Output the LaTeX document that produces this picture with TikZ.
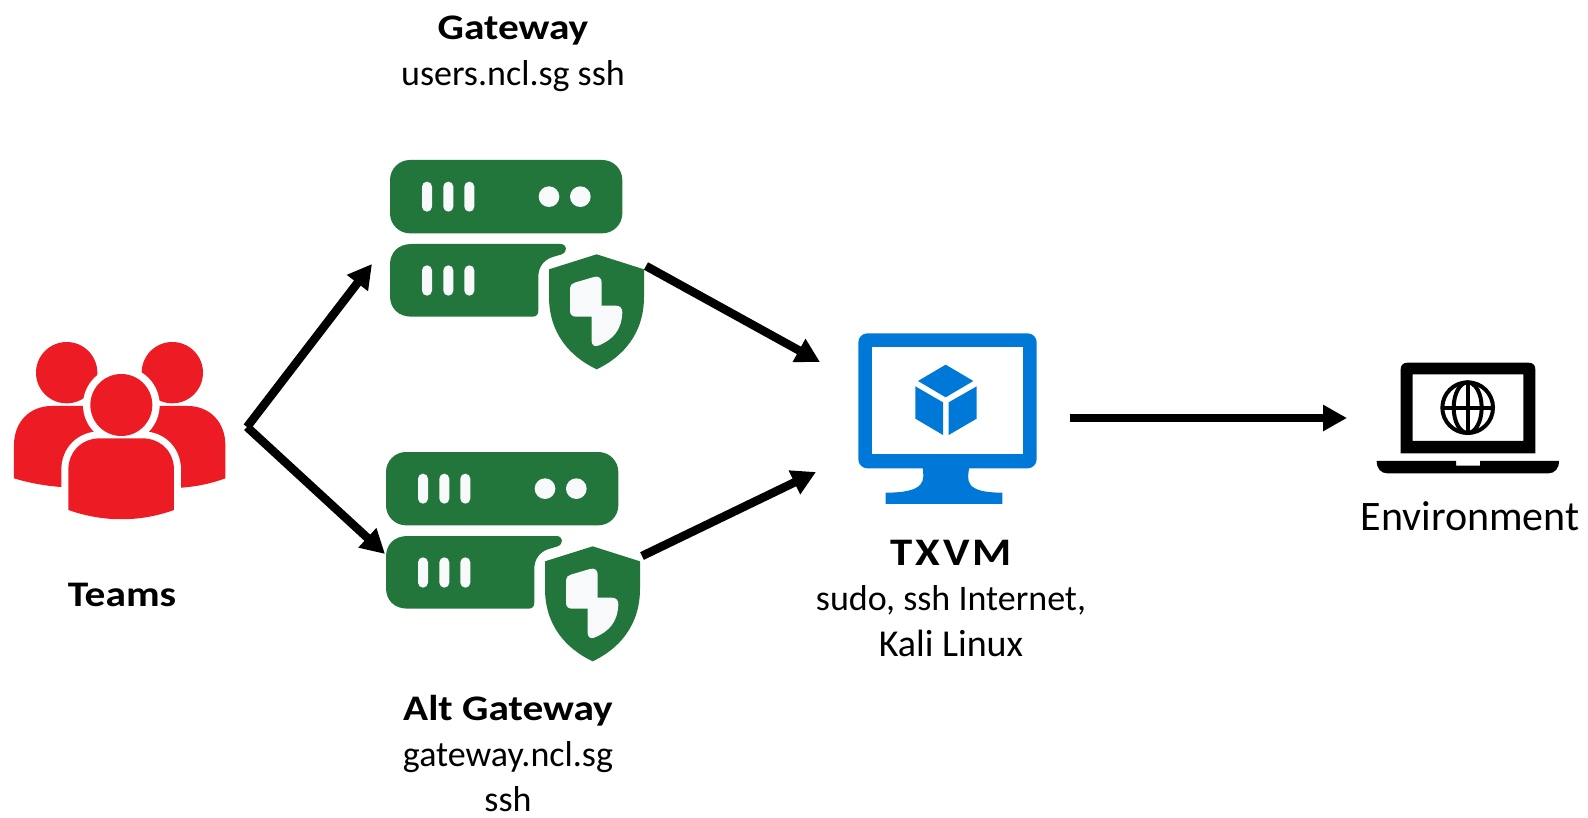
\documentclass[tikz,border=0pt]{standalone}
\usepackage{fontspec}
\setmainfont{Carlito}
\newfontfamily\wideface[FakeStretch=1.15]{Carlito}
\usetikzlibrary{arrows.meta}
\definecolor{teamred}{HTML}{ED1C24}
\definecolor{srvgreen}{HTML}{22753B}
\definecolor{srvwhite}{HTML}{F8F9FB}
\definecolor{vmblue}{HTML}{0078D7}
\newcommand{\headtext}[1]{{\wideface\bfseries #1}}
\tikzset{
  iconframe/.style={inner sep=0pt,outer sep=0pt,draw=none,fill=none},
  conn/.style={line width=8.5pt,black,-{Triangle[length=24pt,width=25pt]}},
  lbl/.style={inner sep=0pt,outer sep=0pt,align=center,text=black,font=\fontsize{36}{45.5}\selectfont},
  zoomunits/.style={x=0.33333pt,y=-0.33333pt},
  pics/server/.style={code={
    \begin{scope}[zoomunits]
      \fill[srvgreen,rounded corners=20pt] (60,60) rectangle (757,280);
      \fill[srvwhite] (537,170) circle (31);
      \fill[srvwhite] (631,170) circle (31);
      \fill[srvgreen] (125,312) -- (570,312) .. controls (592,312) and (594,335) .. (575,343)
        -- (545,352) .. controls (518,362) and (505,385) .. (505,410)
        -- (505,512) .. controls (505,524) and (498,530) .. (488,530)
        -- (125,530) .. controls (85,530) and (60,505) .. (60,468)
        -- (60,374) .. controls (60,337) and (85,312) .. (125,312) -- cycle;
      \foreach \bx in {171,235,298}{
        \fill[srvwhite,rounded corners=5pt] (\bx-15,125) rectangle (\bx+15,215);
        \fill[srvwhite,rounded corners=5pt] (\bx-15,376) rectangle (\bx+15,467);
      }
      \fill[srvgreen] (680,343) -- (822,388) -- (822,470)
        .. controls (822,580) and (760,650) .. (680,688)
        .. controls (600,650) and (537,580) .. (537,470)
        -- (537,388) -- cycle;
      \fill[srvwhite] (614,428) -- (672,411) .. controls (686,407) and (695,414) .. (695,428)
        -- (695,497) -- (738,497) .. controls (750,497) and (757,505) .. (757,517)
        .. controls (755,570) and (730,598) .. (685,617)
        .. controls (673,621) and (665,615) .. (665,603)
        -- (665,530) -- (618,530) .. controls (606,530) and (600,523) .. (600,512)
        -- (600,445) .. controls (600,436) and (605,431) .. (614,428) -- cycle;
    \end{scope}
  }},
  pics/teamicon/.style={code={
    \begin{scope}[zoomunits]
      \fill[teamred] (200,158) circle (92);
      \fill[teamred] (517,158) circle (92);
      \fill[teamred] (42,475) -- (42,375) .. controls (42,305) and (90,258) .. (155,258)
        -- (300,258) -- (300,505) -- (183,501) .. controls (130,497) and (85,488) .. (42,475) -- cycle;
      \fill[teamred] (676,475) -- (676,375) .. controls (676,305) and (628,258) .. (563,258)
        -- (430,258) -- (430,505) -- (545,503) .. controls (595,499) and (635,490) .. (676,475) -- cycle;
      \fill[white] (364,255) circle (115);
      \draw[white,line width=14pt,line join=round,fill=white] (205,570) -- (205,450)
        .. controls (205,395) and (245,355) .. (300,355) -- (427,355)
        .. controls (482,355) and (522,395) .. (522,450) -- (522,570)
        .. controls (420,607) and (310,607) .. (205,570) -- cycle;
      \fill[teamred] (364,255) circle (93);
      \fill[teamred] (205,570) -- (205,450)
        .. controls (205,395) and (245,355) .. (300,355) -- (427,355)
        .. controls (482,355) and (522,395) .. (522,450) -- (522,570)
        .. controls (420,607) and (310,607) .. (205,570) -- cycle;
    \end{scope}
  }},
  pics/vmicon/.style={code={
    \begin{scope}[zoomunits]
      \fill[vmblue,rounded corners=9pt] (55,40) rectangle (590,445);
      \fill[white] (95,82) rectangle (550,402);
      \fill[vmblue] (248,440) .. controls (252,480) and (262,518) .. (137,518)
        -- (137,552) -- (487,552) -- (487,518)
        .. controls (370,518) and (382,480) .. (388,440) -- cycle;
      \fill[vmblue] (317,134) -- (400,183) -- (317,232) -- (234,183) -- cycle;
      \fill[vmblue] (226,199) -- (309,247) -- (309,345) -- (226,296) -- cycle;
      \fill[vmblue] (410,199) -- (326,247) -- (326,345) -- (410,296) -- cycle;
    \end{scope}
  }},
  pics/laptopicon/.style={code={
    \begin{scope}[zoomunits]
      \fill[black,even odd rule] (122,310) -- (122,58) .. controls (122,45) and (130,38) .. (143,38)
        -- (505,38) .. controls (518,38) and (526,45) .. (526,58) -- (526,310) -- cycle
        (158,73) rectangle (490,273);
      \fill[black] (50,333) -- (288,333) -- (288,347) -- (360,347) -- (360,333) -- (597,333)
        .. controls (597,355) and (585,370) .. (565,370) -- (82,370)
        .. controls (62,370) and (50,355) .. (50,333) -- cycle;
      \draw[black,line width=4pt] (323,173) circle (76);
      \draw[black,line width=4pt] (323,173) ellipse (42 and 76);
      \draw[black,line width=4pt] (323,97) -- (323,249);
      \draw[black,line width=4pt] (247,173) -- (399,173);
    \end{scope}
  }}
}
\begin{document}
\begin{tikzpicture}[x=1pt,y=-1pt]
\useasboundingbox (0,0) rectangle (1588,818);
\fill[white] (0,0) rectangle (1588,818);

% icons
\pic at (0,320) {teamicon};
\pic at (370,140) {server};
\pic at (366,432) {server};
\pic at (840,320) {vmicon};
\pic at (1360,350) {laptopicon};

% named icon frames
\node[iconframe,minimum width=212pt,minimum height=178pt] (teams) at (120,430) {};
\node[iconframe,minimum width=232pt,minimum height=210pt] (gateway) at (506,265) {};
\node[iconframe,minimum width=232pt,minimum height=210pt] (altgateway) at (502,557) {};
\node[iconframe,minimum width=178pt,minimum height=170pt] (txvm) at (947,418) {};
\node[iconframe,minimum width=182pt,minimum height=112pt] (laptop) at (1484,419) {};

% connector ends
\coordinate (teamsOut) at (247,427);
\coordinate (gwIn) at (372,264);
\coordinate (altIn) at (385,554);
\coordinate (gwOut) at (646,266);
\coordinate (altOut) at (642,556);
\coordinate (vmInA) at (820,362);
\coordinate (vmInB) at (816,472);
\coordinate (vmOut) at (1070,418);
\coordinate (lapIn) at (1347,418);

% connectors
\draw[conn] (teamsOut) -- (gwIn);
\draw[conn] (teamsOut) -- (altIn);
\draw[conn] (gwOut) -- (vmInA);
\draw[conn] (altOut) -- (vmInB);
\draw[conn] (vmOut) -- (lapIn);

% labels
\node[lbl,anchor=base] (teamsLabel) at (122,606) {\headtext{Teams}};
\node[lbl,anchor=north] (gatewayLabel) at (513,16) {\headtext{Gateway}\\users.ncl.sg ssh};
\node[lbl,anchor=north] (altLabel) at (508,695.5) {\headtext{Alt Gateway}\\gateway.ncl.sg\\ssh};
\node[lbl,anchor=north] (txvmLabel) at (951,540) {{\fontsize{39}{45.5}\selectfont\wideface\bfseries\addfontfeature{LetterSpace=8}TXVM}\\sudo, ssh Internet,\\{\fontsize{38}{45.5}\selectfont Kali Linux}};
\node[lbl,anchor=base,font=\fontsize{42}{46}\selectfont] (envLabel) at (1470,530) {Environment};
\end{tikzpicture}
\end{document}
